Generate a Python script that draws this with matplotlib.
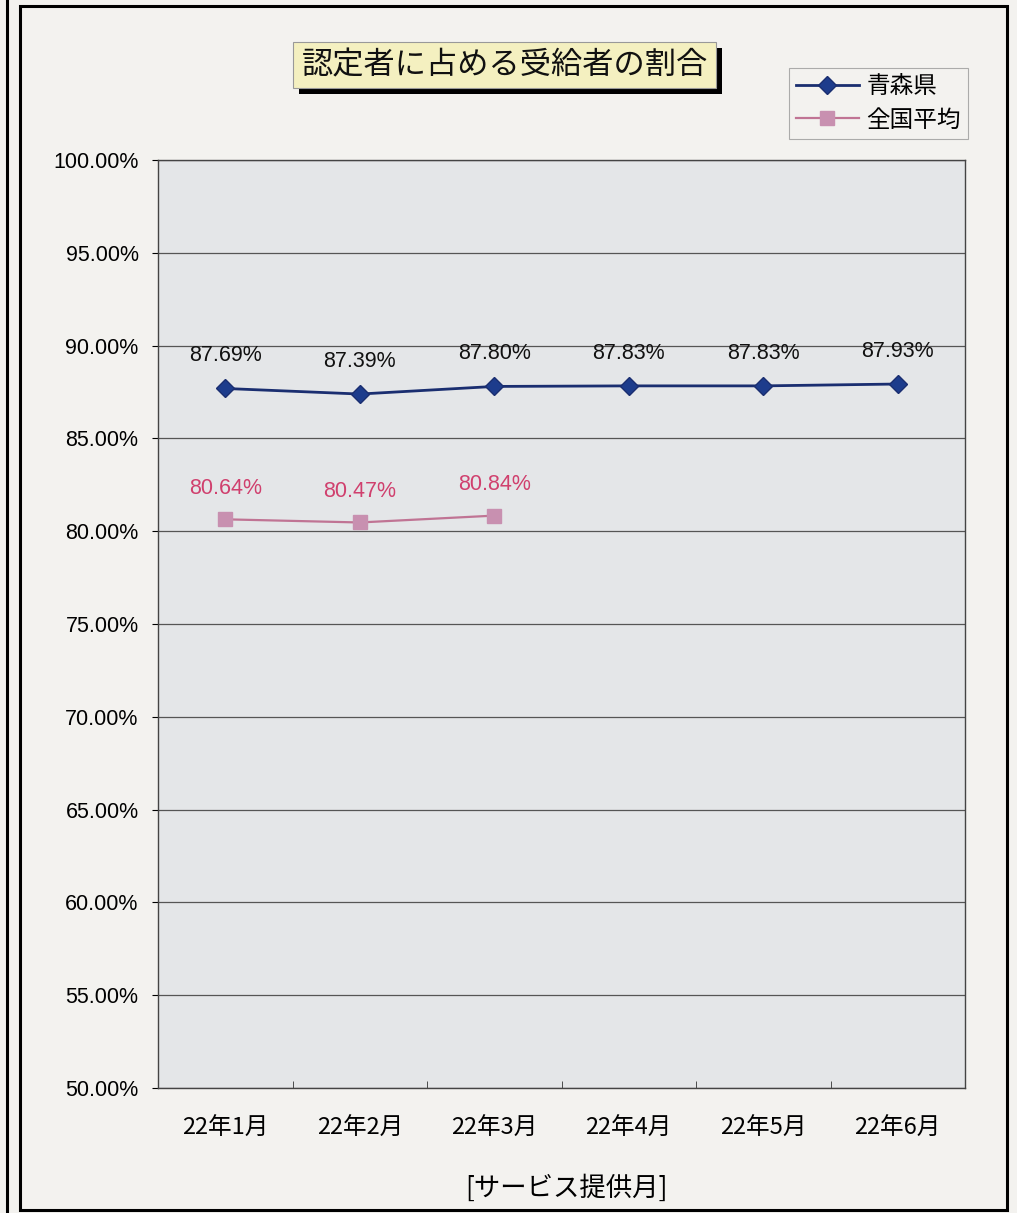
import matplotlib
matplotlib.use("Agg")
import matplotlib.pyplot as plt
from matplotlib.patches import Rectangle
from matplotlib.ticker import FixedLocator, FuncFormatter

plt.rcParams['font.family'] = ['Noto Sans CJK JP', 'DejaVu Sans']

categories = ["22年1月", "22年2月", "22年3月", "22年4月", "22年5月", "22年6月"]
aomori = [87.69, 87.39, 87.80, 87.83, 87.83, 87.93]
national = [80.64, 80.47, 80.84]
series_names = ["青森県", "全国平均"]
title = "認定者に占める受給者の割合"
xlabel = "[サービス提供月]"
yticks = [50, 55, 60, 65, 70, 75, 80, 85, 90, 95, 100]

W, H = 1017, 1213
fig = plt.figure(figsize=(W/100, H/100), dpi=100)
fig.patch.set_facecolor('#F3F2EF')

NUM = ['Liberation Sans', 'DejaVu Sans']

# outer frames
fig.add_artist(Rectangle((20/W, 1-1210/H), (1007-20)/W, (1210-6)/H, transform=fig.transFigure,
                         fill=False, edgecolor='black', linewidth=2.2))
fig.add_artist(plt.Line2D([7/W, 7/W], [0, 1], transform=fig.transFigure, color='black', linewidth=2.2))

ax = fig.add_axes([158/W, 1-1088/H, (965-158)/W, (1088-160)/H])
ax.set_facecolor('#E4E6E8')

x = list(range(len(categories)))
ax.plot(x, aomori, color='#1A2E70', linewidth=2.0, marker='D', markersize=9,
        markerfacecolor='#1D3C8C', markeredgecolor='#1A2E70', label=series_names[0], zorder=3)
ax.plot(x[:len(national)], national, color='#C07494', linewidth=1.6, marker='s', markersize=10,
        markerfacecolor='#C890B0', markeredgecolor='#C890B0', label=series_names[1], zorder=3)

for xi, v in zip(x, aomori):
    ax.annotate(f"{v:.2f}%", (xi, v), xytext=(0, 23.5), textcoords='offset points',
                ha='center', va='center', fontsize=15.5, color='#111111', family=NUM)
for xi, v in zip(x, national):
    ax.annotate(f"{v:.2f}%", (xi, v), xytext=(0, 22.5), textcoords='offset points',
                ha='center', va='center', fontsize=15.5, color='#D0406E', family=NUM)

ax.set_xlim(-0.5, len(categories) - 0.5)
ax.set_ylim(50, 100)
ax.yaxis.set_major_locator(FixedLocator(yticks))
ax.yaxis.set_major_formatter(FuncFormatter(lambda v, p: f"{v:.2f}%"))
ax.set_xticks(x)
ax.set_xticklabels(categories, fontsize=17)
ax.set_xticks([i + 0.5 for i in x[:-1]], minor=True)
ax.tick_params(axis='x', which='major', length=0, pad=21)
ax.tick_params(axis='x', which='minor', length=5, direction='in', color='#333333')
ax.tick_params(axis='y', which='major', length=4, direction='out', labelsize=15.5, pad=10)
for lbl in ax.get_yticklabels():
    lbl.set_family(NUM)
ax.grid(axis='y', color='#555555', linewidth=0.9)
ax.set_axisbelow(True)
for s in ax.spines.values():
    s.set_color('#444444')
    s.set_linewidth(1.0)

fig.text(566/W, 1-1188/H, xlabel, ha='center', va='center', fontsize=19)

# title with shadow box
fig.add_artist(Rectangle((299/W, 1-94/H), (722-299)/W, (94-48)/H, transform=fig.transFigure,
                         facecolor='black', edgecolor='none', zorder=0))
fig.add_artist(Rectangle((293/W, 1-88/H), (716-293)/W, (88-42)/H, transform=fig.transFigure,
                         facecolor='#F4F0C0', edgecolor='#999999', linewidth=0.8, zorder=1))
fig.text(505/W, 1-65/H, title, ha='center', va='center', fontsize=22.5, color='#111111', zorder=2)

leg = fig.legend(loc='upper right', bbox_to_anchor=(968/W, 1-68/H), fontsize=17,
                 frameon=True, fancybox=False, edgecolor='#999999', facecolor='#F3F2EF',
                 handlelength=2.7, handletextpad=0.3, borderpad=0.3, labelspacing=0.45,
                 borderaxespad=0)
leg.get_frame().set_linewidth(0.8)

fig.savefig('out.png', dpi=100, facecolor=fig.get_facecolor())
